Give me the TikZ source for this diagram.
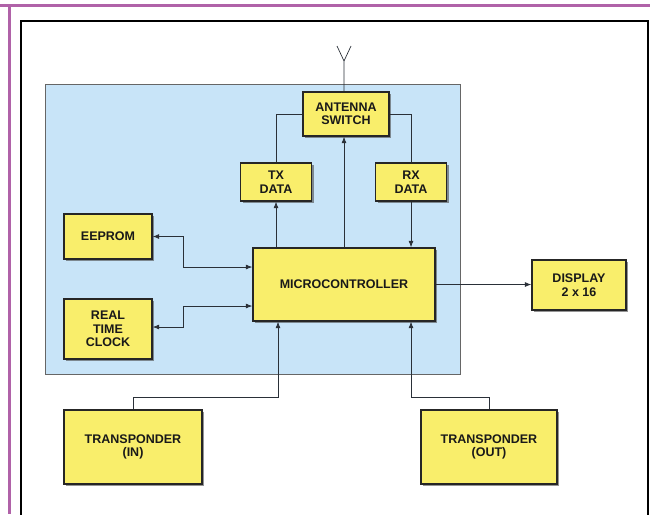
\documentclass[tikz,border=0pt]{standalone}
\usepackage{fontspec}
\setmainfont{Liberation Sans}
\usetikzlibrary{shadows,arrows.meta}

\definecolor{boxyellow}{HTML}{F9EE6B}
\definecolor{panelblue}{HTML}{C8E4F8}
\definecolor{framepurple}{HTML}{B062A8}
\definecolor{wire}{HTML}{2A3038}

\begin{document}
\begin{tikzpicture}
        [x=1pt, y=-1pt, >={Latex[length=6.5pt,width=5pt]},
        block/.style={rectangle, draw=black!85, line width=1.4pt, fill=boxyellow,
            drop shadow={shadow xshift=2pt, shadow yshift=-2pt, fill=black!70, opacity=0.6},
            align=center, text=black!90, inner sep=0pt,
            font=\bfseries\fontsize{12.5}{13.5}\selectfont},
        link/.style={wire, line width=0.7pt},
        panel/.style={fill=panelblue, draw=black!60, line width=0.8pt}]

        \useasboundingbox (0,0) rectangle (650,514);

        % page frame
        \draw[framepurple, line width=3pt] (0,5) -- (650,5);
        \draw[framepurple, line width=3pt] (9,5) -- (9,514);
        \draw[black, line width=1.6pt] (21,540) -- (21,21) -- (648,21) -- (648,540);

        % board
        \draw[panel] (45,84) rectangle (460,374);

        \node[block, minimum width=86pt, minimum height=44pt] (sw) at (346,114) {ANTENNA\\SWITCH};
        \node[block, minimum width=71pt, minimum height=38pt] (tx) at (276,182) {TX\\DATA};
        \node[block, minimum width=71pt, minimum height=38pt] (rx) at (411,182) {RX\\DATA};
        \node[block, minimum width=182pt, minimum height=73pt] (mc) at (344,284.5) {MICROCONTROLLER};
        \node[block, minimum width=88pt, minimum height=45pt] (ee) at (108,236.5) {EEPROM};
        \node[block, minimum width=88pt, minimum height=60pt] (rtc) at (108,329) {REAL\\TIME\\CLOCK};
        \node[block, minimum width=94pt, minimum height=50pt] (dp) at (579,285) {DISPLAY\\2 x 16};
        \node[block, minimum width=138pt, minimum height=74pt] (tin) at (133,447) {TRANSPONDER\\(IN)};
        \node[block, minimum width=136pt, minimum height=74pt] (tout) at (489,447) {TRANSPONDER\\(OUT)};

        \coordinate (ant) at (344,61);

        \draw[link] (sw.north -| ant) -- (ant) -- ++(-7,-15);
        \draw[link] (ant) -- ++(7,-15);
        \draw[link] (sw.west) -| (tx.north);
        \draw[link] (sw.east) -| (rx.north);
        \draw[link, ->] (mc.north -| ant) -- (sw.south -| ant);
        \draw[link, ->] (mc.north -| tx.south) -- (tx.south);
        \draw[link, ->] (rx.south) -- (rx.south |- mc.north);
        \draw[link, <->] (ee.east) -- ++(31,0) |- ([yshift=17.5pt]mc.west);
        \draw[link, <->] ([yshift=2pt]rtc.east) -- ++(31,0) |- ([yshift=-21.5pt]mc.west);
        \draw[link, ->] (mc.east) -- (mc.east -| dp.west);
        \draw[link, ->] (tin.north) -- ++(0,-12) -| ([xshift=-66pt]mc.south);
        \draw[link, ->] (tout.north) -- ++(0,-12) -| ([xshift=67pt]mc.south);

    \end{tikzpicture}
\end{document}
